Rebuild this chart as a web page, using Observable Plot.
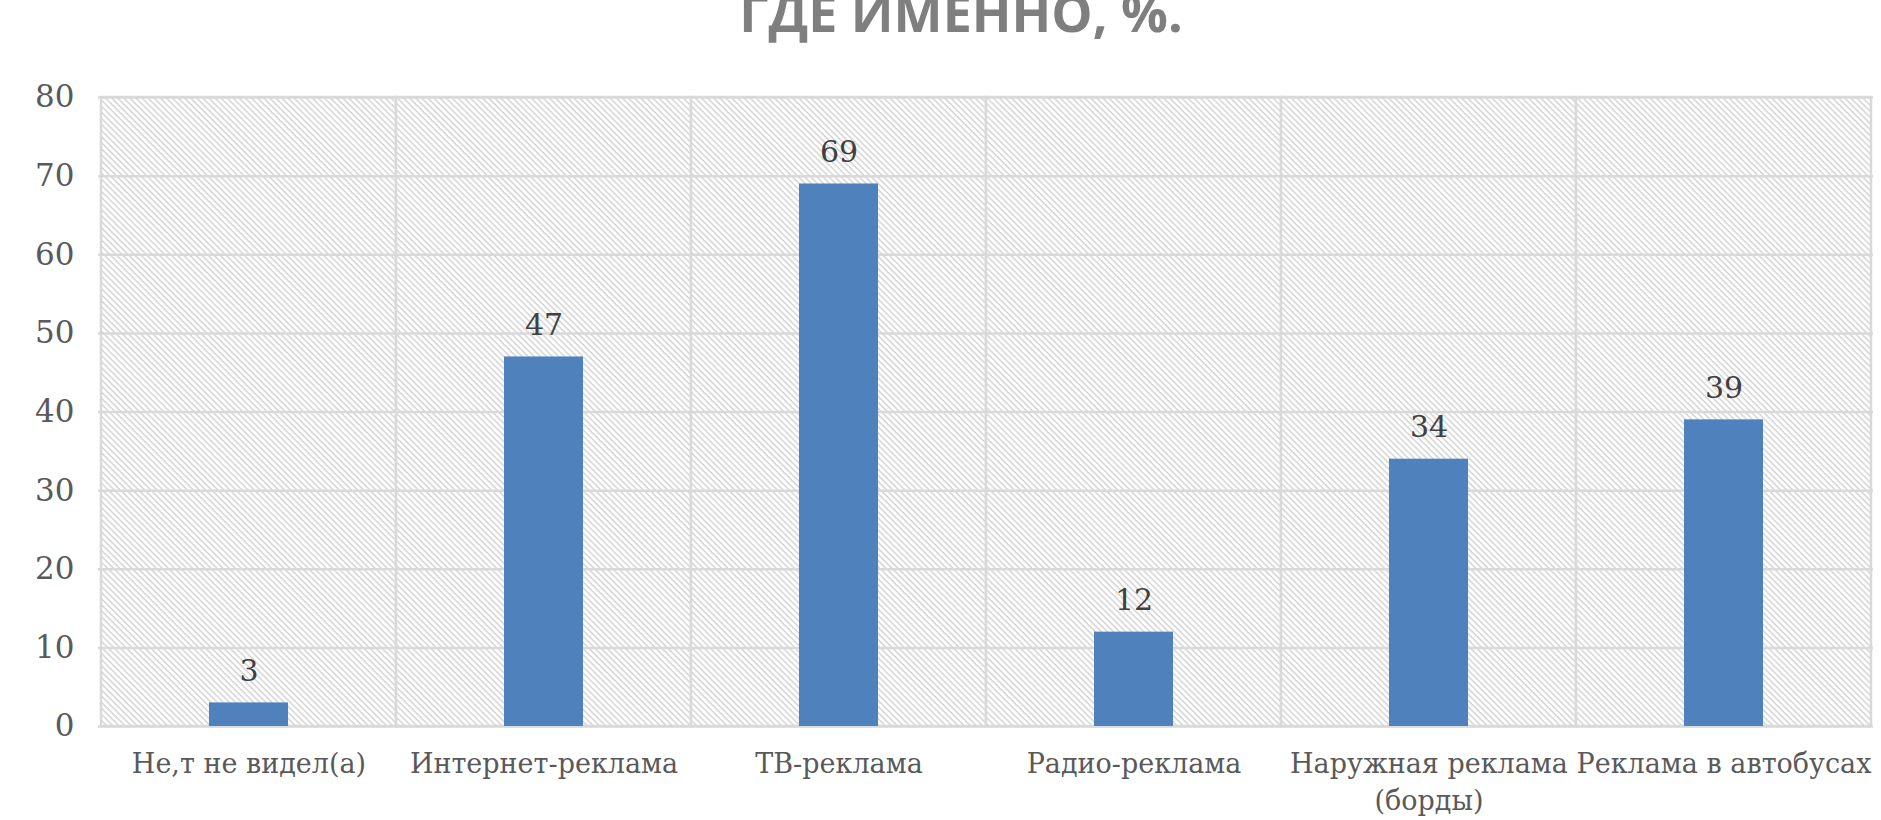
<!DOCTYPE html>
<html><head><meta charset="utf-8">
<script src="https://cdn.jsdelivr.net/npm/d3@7"></script>
<script src="https://cdn.jsdelivr.net/npm/@observablehq/plot@0.6"></script>
<style>
body{margin:0;background:#fff;overflow:hidden;position:relative}
#title{position:absolute;left:461px;top:-14px;width:1000px;text-align:center;font:700 52px/52px "Open Sans";color:#7f7f7f;z-index:2;white-space:nowrap}
</style></head><body>
<div id="title">ГДЕ ИМЕННО, %.</div>
<div id="chart"></div>
<script>
const categories = ["Не,т не видел(а)", "Интернет-реклама", "ТВ-реклама", "Радио-реклама", "Наружная реклама (борды)", "Реклама в автобусах"];
const values = [3, 47, 69, 12, 34, 39];
const yTicks = [0, 10, 20, 30, 40, 50, 60, 70, 80];
const yDomain = [0, 80];
const data = categories.map((c, i) => ({category: c, value: values[i]}));

const plot = Plot.plot({
  width: 1881, height: 820,
  marginLeft: 98, marginRight: 8, marginTop: 97, marginBottom: 94,
  style: {background: "#fff", fontFamily: "DejaVu Serif"},
  x: {domain: categories, padding: 0, label: null},
  y: {domain: yDomain, ticks: yTicks, label: null},
  marks: [
    Plot.barY(categories, {x: d => d, y1: yDomain[0], y2: yDomain[1], fill: "url(#hatch)", stroke: "#d9d9d9", strokeWidth: 2.5}),
    Plot.gridY(yTicks, {stroke: "#d9d9d9", strokeOpacity: 1, strokeWidth: 2.5}),
    Plot.barY(data, {x: "category", y: "value", fill: "#4f81bd", insetLeft: 108, insetRight: 108}),
    Plot.text(data, {x: "category", y: "value", text: d => String(d.value), dy: -22, lineAnchor: "bottom", fontSize: 30, fill: "#404040"}),
    Plot.axisY(yTicks, {tickSize: 0, tickPadding: 24, fontSize: 31, fill: "#595959"}),
    Plot.axisX({tickSize: 0, tickPadding: 21, fontSize: 27, fill: "#595959", lineHeight: 1.35, tickFormat: d => d.replace(" (", "\n(")})
  ]
});
const ns = d3.select(plot);
const pat = ns.insert("defs", ":first-child").append("pattern")
  .attr("id", "hatch").attr("patternUnits", "userSpaceOnUse")
  .attr("width", 4.3).attr("height", 10).attr("patternTransform", "rotate(-45)");
pat.append("rect").attr("width", 4.3).attr("height", 10).attr("fill", "#fff");
pat.append("line").attr("x1", 1).attr("x2", 1).attr("y1", 0).attr("y2", 10).attr("stroke", "#d2d2d2").attr("stroke-width", 1.4);
document.getElementById("chart").appendChild(plot);
</script>
</body></html>
